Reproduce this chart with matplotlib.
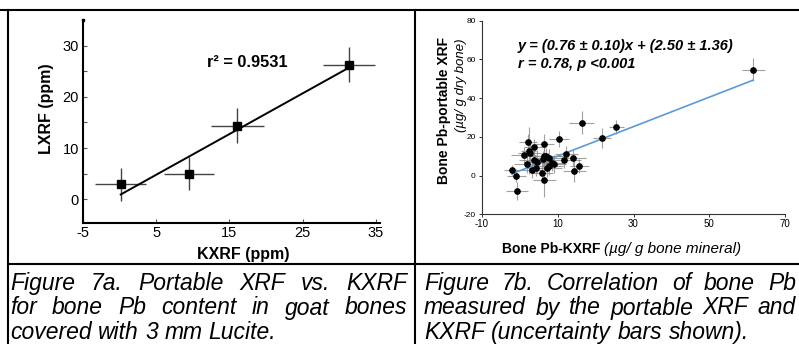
import matplotlib
matplotlib.use('Agg')
import matplotlib.pyplot as plt
import numpy as np
from matplotlib.lines import Line2D
from matplotlib import font_manager

# ---------------- data: Figure 7a ----------------
kxrf_a = [0.15, 9.5, 16.05, 31.3]
lxrf_a = [2.9, 5.0, 14.4, 26.3]
kxrf_a_err = [3.5, 3.45, 3.6, 3.6]
lxrf_a_err = [3.3, 3.2, 3.4, 3.4]
a_xticks = [-5, 5, 15, 25, 35]
a_yticks = [0, 10, 20, 30]
a_yminor = [5, 15, 25]
r2_text = "r² = 0.9531"

# ---------------- data: Figure 7b ----------------
kxrf_b = [-2.1, -0.9, -0.75, 1.0, 2.15, 2.3, 2.6, 3.7, 1.9, 3.2, 3.7, 4.5,
          6.5, 6.4, 7.0, 5.85, 6.5, 7.2, 7.8, 8.5, 9.1, 7.8, 10.3, 12.3,
          11.6, 14.0, 14.4, 15.7, 16.4, 21.7, 25.5, 61.6, 6.0, 4.2]
pxrf_b = [2.9, 0.0, -8.0, 10.6, 17.5, 12.9, 11.5, 14.9, 5.8, 2.9, 8.1, 7.2,
          16.3, 10.2, 10.0, 1.5, -2.3, 3.8, 5.1, 6.3, 6.0, 8.9, 18.9, 11.2,
          8.1, 9.2, 2.4, 5.0, 27.3, 19.6, 25.1, 54.7, 8.5, 3.8]
kxrf_b_err = [2.0, 2.5, 3.0, 3.3, 2.5, 2.0, 3.0, 2.5, 3.5, 3.0, 4.0, 3.5,
              2.5, 5.0, 4.5, 3.0, 3.0, 4.0, 3.5, 3.0, 3.0, 4.0, 2.6, 3.0,
              4.5, 3.5, 3.0, 2.5, 3.3, 2.4, 2.0, 3.0, 3.0, 3.0]
pxrf_b_err = [2.5, 3.5, 4.6, 4.0, 4.0, 12.0, 5.0, 4.0, 4.5, 4.0, 5.0, 6.0,
              5.0, 5.5, 4.5, 5.0, 9.0, 4.5, 5.0, 4.0, 4.5, 5.0, 4.3, 4.0,
              4.0, 4.0, 5.6, 3.5, 5.8, 5.2, 3.4, 6.0, 4.0, 4.0]
b_slope, b_intercept = 0.76, 2.50
b_xticks = [-10, 10, 30, 50, 70]
b_yticks = [-20, 0, 20, 40, 60, 80]
eq_line1 = "y = (0.76 ± 0.10)x + (2.50 ± 1.36)"
eq_line2 = "r = 0.78, p <0.001"

caption_a = ["Figure 7a. Portable XRF vs. KXRF",
             "for bone Pb content in goat bones",
             "covered with 3 mm Lucite."]
caption_b = ["Figure 7b. Correlation of bone Pb",
             "measured by the portable XRF and",
             "KXRF (uncertainty bars shown)."]

# ---------------- figure ----------------
W, H, DPI = 799, 344, 100
plt.rcParams['font.family'] = ['Liberation Sans', 'DejaVu Sans']
plt.rcParams['axes.unicode_minus'] = False
fig = plt.figure(figsize=(W / DPI, H / DPI), dpi=DPI)
fig.patch.set_facecolor('white')

_names = {f.name for f in font_manager.fontManager.ttflist}
if 'Liberation Sans Narrow' in _names:
    cap_family = ['Liberation Sans Narrow', 'Liberation Sans', 'DejaVu Sans']
    cap_size = 19.5
else:
    cap_family = ['Liberation Sans', 'DejaVu Sans']
    cap_size = 16.5


def rect(l, t, r, b):
    return [l / W, 1 - b / H, (r - l) / W, (b - t) / H]


def T(px, py, s, **kw):
    return fig.text(px / W, 1 - py / H, s, **kw)


# table lines
lw_tab = 1.5
for (x0, y0, x1, y1) in [(0, 10, W, 10), (7.5, 10, 7.5, H), (415, 10, 415, H),
                         (7.5, 264, W, 264)]:
    fig.add_artist(Line2D([x0 / W, x1 / W], [1 - y0 / H, 1 - y1 / H],
                          color='black', lw=lw_tab, transform=fig.transFigure))

# ---------------- panel a ----------------
axA = fig.add_axes(rect(83, 20, 380, 223))
axA.set_xlim(-5, 35.55)
axA.set_ylim(-4.63, 35.02)
axA.errorbar(kxrf_a, lxrf_a, xerr=kxrf_a_err, yerr=lxrf_a_err, fmt='none',
             ecolor='#444444', elinewidth=1.0, capsize=0, zorder=2)
coef = np.polyfit(kxrf_a, lxrf_a, 1)
xf = np.array([min(kxrf_a), max(kxrf_a)])
axA.plot(xf, np.polyval(coef, xf), color='black', lw=1.4, zorder=3)
axA.plot(kxrf_a, lxrf_a, 's', color='black', ms=5.8, zorder=4)
axA.plot([-5], [35], 's', color='black', ms=1.8, clip_on=False)
for s in ['top', 'right']:
    axA.spines[s].set_visible(False)
for s in ['left', 'bottom']:
    axA.spines[s].set_linewidth(1.5)
axA.set_xticks(a_xticks)
axA.set_yticks(a_yticks)
axA.set_yticks(a_yminor, minor=True)
axA.tick_params(axis='both', which='both', direction='in', length=3, width=0.8,
                color='#555555', labelsize=10.5)
axA.tick_params(axis='x', pad=2)
axA.tick_params(axis='y', pad=3)
T(207, 62.5, r2_text, fontsize=11.8, fontweight='bold', va='center', ha='left')
T(47, 109, "LXRF (ppm)", fontsize=11.5, fontweight='bold', rotation=90,
  va='center', ha='center')
T(243, 259, "KXRF (ppm)", fontsize=11.5, fontweight='bold', va='baseline',
  ha='center')

# ---------------- panel b ----------------
axB = fig.add_axes(rect(482, 20.7, 785, 214.3))
axB.set_xlim(-10, 70)
axB.set_ylim(-20, 80)
axB.errorbar(kxrf_b, pxrf_b, xerr=kxrf_b_err, yerr=pxrf_b_err, fmt='none',
             ecolor='#8a8a8a', elinewidth=0.8, capsize=0, alpha=0.8, zorder=2)
xl = np.array([min(kxrf_b), max(kxrf_b)])
axB.plot(xl, b_slope * xl + b_intercept, color='#5b9bd5', lw=1.2, zorder=3)
axB.plot(kxrf_b, pxrf_b, 'o', color='black', ms=3.8, zorder=4)
for s in ['top', 'right']:
    axB.spines[s].set_visible(False)
for s in ['left', 'bottom']:
    axB.spines[s].set_linewidth(0.8)
    axB.spines[s].set_color('#333333')
axB.set_xticks(b_xticks)
axB.set_yticks(b_yticks)
axB.tick_params(axis='both', direction='out', length=2.5, width=0.7,
                color='#333333')
axB.tick_params(axis='x', labelsize=7, pad=1)
axB.tick_params(axis='y', labelsize=6, pad=2)

T(518, 46, eq_line1, fontsize=10.5, fontweight='bold', style='italic',
  va='center', ha='left')
T(518, 64, eq_line2, fontsize=10.5, fontweight='bold', style='italic',
  va='center', ha='left')
T(444, 110, "Bone Pb-portable XRF", fontsize=10, fontweight='bold',
  rotation=90, va='center', ha='center')
T(461, 85, "(µg/ g dry bone)", fontsize=9.5, style='italic', rotation=90,
  va='center', ha='center')

renderer = fig.canvas.get_renderer()
t1 = T(502, 253, "Bone Pb-KXRF", fontsize=10, fontweight='bold',
       va='baseline', ha='left')
w1 = t1.get_window_extent(renderer).width
T(502 + w1 + 3, 253, "(µg/ g bone mineral)", fontsize=11, style='italic',
  va='baseline', ha='left')


# ---------------- captions (justified) ----------------
def place_line(line, x0, x1, ybase, size, justify):
    kw = dict(fontsize=size, style='italic', family=cap_family)
    words = line.split(' ')
    ts = [T(0, ybase, w, va='baseline', ha='left', **kw) for w in words]
    widths = [t.get_window_extent(renderer).width for t in ts]
    sp = T(0, ybase, 'a a', **kw)
    spw = sp.get_window_extent(renderer).width
    aa = T(0, ybase, 'aa', **kw)
    spw -= aa.get_window_extent(renderer).width
    sp.remove()
    aa.remove()
    if justify and len(words) > 1:
        gap = (x1 - x0 - sum(widths)) / (len(words) - 1)
    else:
        gap = spw
    x = x0
    for t, w in zip(ts, widths):
        t.set_position((x / W, 1 - ybase / H))
        x += w + gap


baselines = [290, 314.5, 339]
for i, line in enumerate(caption_a):
    place_line(line, 10, 407, baselines[i], cap_size, i < 2)
for i, line in enumerate(caption_b):
    place_line(line, 424, 796, baselines[i], cap_size, i < 2)

fig.savefig('out.png', dpi=DPI)
